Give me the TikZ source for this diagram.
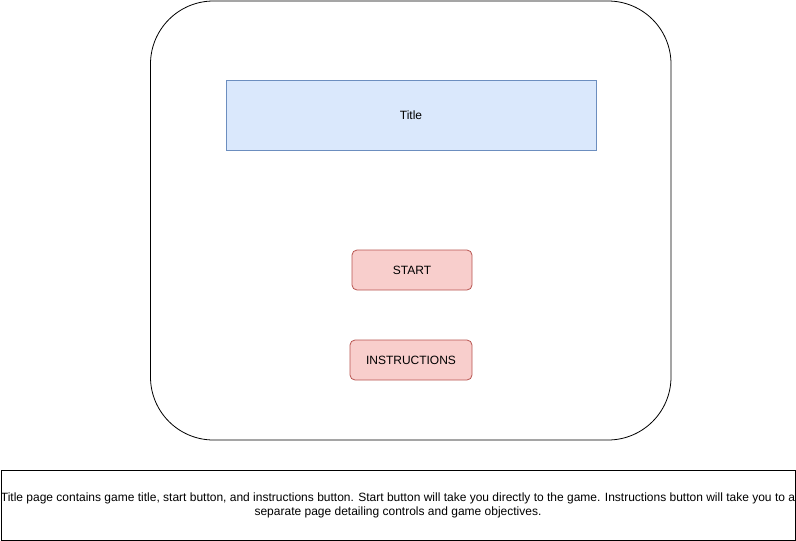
\documentclass[tikz,border=0pt]{standalone}
\usepackage{fontspec}
\setmainfont{Liberation Sans}
\definecolor{bluefill}{HTML}{DAE8FC}
\definecolor{blueline}{HTML}{6C8EBF}
\definecolor{redfill}{HTML}{F8CECC}
\definecolor{redline}{HTML}{B85450}
\begin{document}
\begin{tikzpicture}[x=1pt,y=-1pt,
  titlebox/.style={draw=blueline,fill=bluefill,line width=0.8pt},
  btn/.style={draw=redline,fill=redfill,rounded corners=5pt,line width=0.8pt},
  lbl/.style={font=\fontsize{12}{14}\selectfont,inner sep=0pt},
  frame/.style={draw=black,line width=0.8pt}]
\useasboundingbox (0,0) rectangle (796,541);
\draw[frame,rounded corners=63pt] (150.5,1) rectangle (671,440);
\draw[titlebox] (226,80) rectangle (596,150);
\node[lbl] (title) at (411,115) {Title};
\draw[btn] (352,250) rectangle (472,290);
\node[lbl] (start) at (412,270) {START};
\draw[btn] (350,340) rectangle (472,380);
\node[lbl] (instr) at (411,360) {INSTRUCTIONS};
\draw[frame] (1,470) rectangle (795,540);
\node[lbl,align=center] (desc) at (398,505) {Title page contains game title, start button, and instructions button. Start button will take you directly to the game. Instructions button will take you to a\\separate page detailing controls and game objectives.};
\end{tikzpicture}
\end{document}
